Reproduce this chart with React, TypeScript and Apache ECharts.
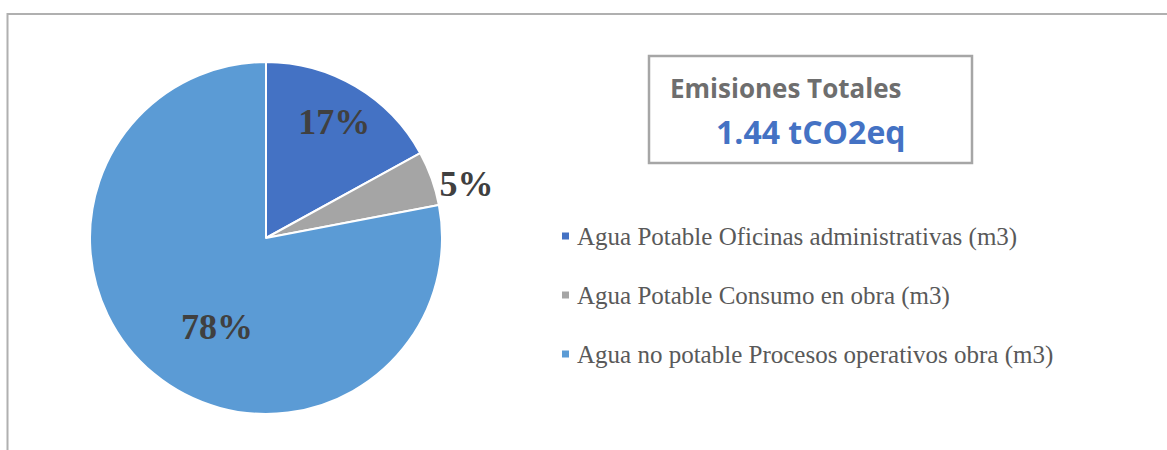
import React, { useEffect, useRef } from "react";
import * as echarts from "echarts";

const categories = [
  "Agua Potable Oficinas administrativas (m3)",
  "Agua Potable Consumo en obra (m3)",
  "Agua no potable Procesos operativos obra (m3)",
];
const shares = [17, 5, 78];
const colors = ["#4472C4", "#A5A5A5", "#5B9BD5"];
const boxTitle = "Emisiones Totales";
const boxValue = "1.44 tCO2eq";
// label nudges from the default inside position (style only)
const labelNudges = [
  [22, -38],
  [115, -23],
  [9, 19],
];

export default function App() {
  const ref = useRef<HTMLDivElement>(null);
  useEffect(() => {
    document.body.style.margin = "0";
    const chart = echarts.init(ref.current!, null, { renderer: "svg" });
    chart.setOption({
      animation: false,
      backgroundColor: "#FFFFFF",
      legend: {
        orient: "vertical",
        left: 555,
        top: 218,
        padding: 5,
        icon: "rect",
        itemWidth: 9,
        itemHeight: 9,
        itemGap: 33,
        selectedMode: false,
        textStyle: {
          fontFamily: "'Liberation Serif', 'Times New Roman', serif",
          fontSize: 25,
          lineHeight: 26,
          color: "#595959",
          padding: [0, 0, 0, 2],
        },
        data: categories,
      },
      graphic: [
        {
          type: "polyline",
          shape: { points: [[7.5, 450], [7.5, 14], [1167, 14]] },
          style: { stroke: "#B0B0B0", lineWidth: 2, fill: null },
          silent: true,
        },
        {
          type: "rect",
          shape: { x: 649, y: 56, width: 323, height: 107 },
          style: { stroke: "#A6A6A6", lineWidth: 2.5, fill: "#FFFFFF" },
          silent: true,
        },
        {
          type: "text",
          x: 670,
          y: 88,
          style: {
            text: boxTitle,
            fontFamily: "'Open Sans'",
            fontWeight: "bold",
            fontSize: 26,
            fill: "#6E6E6E",
            verticalAlign: "middle",
          },
          silent: true,
        },
        {
          type: "text",
          x: 716,
          y: 131,
          style: {
            text: boxValue,
            fontFamily: "'Open Sans'",
            fontWeight: "bold",
            fontSize: 32,
            fill: "#4472C4",
            verticalAlign: "middle",
          },
          silent: true,
        },
      ],
      series: [
        {
          type: "pie",
          center: [266, 238],
          radius: 176,
          startAngle: 90,
          clockwise: true,
          silent: true,
          itemStyle: { borderColor: "#FFFFFF", borderWidth: 2 },
          label: {
            show: true,
            position: "inside",
            formatter: "{d}%",
            fontFamily: "'Liberation Serif', 'Times New Roman', serif",
            fontWeight: "bold",
            fontSize: 36,
            color: "#404040",
          },
          labelLine: { show: false },
          labelLayout: (p: any) => ({
            dx: labelNudges[p.dataIndex][0],
            dy: labelNudges[p.dataIndex][1],
          }),
          data: categories.map((name, i) => ({
            name,
            value: shares[i],
            itemStyle: { color: colors[i] },
          })),
        },
      ],
    });
    return () => chart.dispose();
  }, []);
  return <div ref={ref} style={{ width: 1167, height: 450 }} />;
}
